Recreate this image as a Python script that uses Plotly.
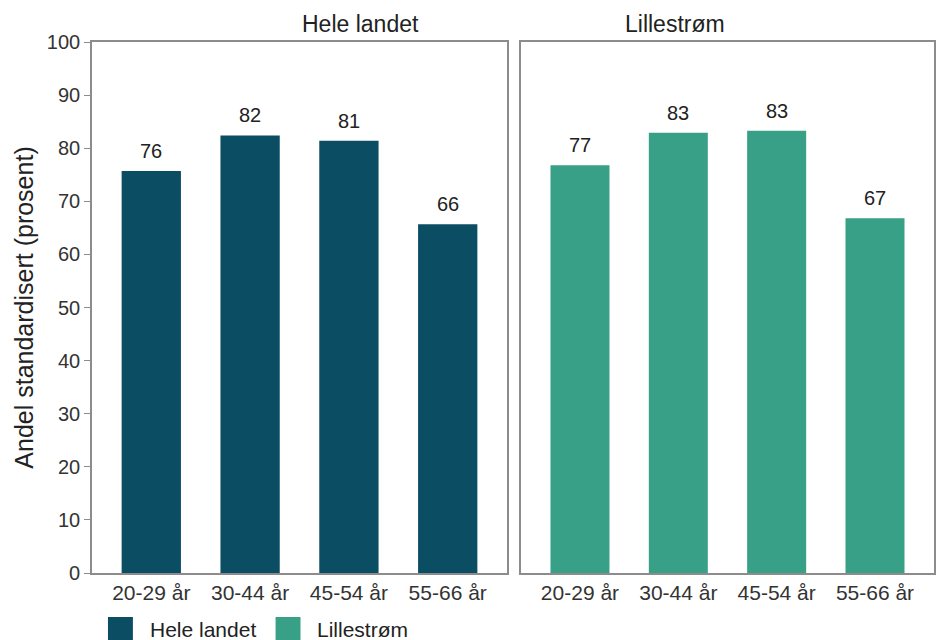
import plotly.graph_objects as go

categories = ["20-29 år", "30-44 år", "45-54 år", "55-66 år"]
hele_landet = [75.7, 82.4, 81.4, 65.7]
lillestrom = [76.8, 82.9, 83.3, 66.8]
series_names = ["Hele landet", "Lillestrøm"]
colors = ["#0b4d63", "#38a086"]
y_ticks = [0, 10, 20, 30, 40, 50, 60, 70, 80, 90, 100]

W, H = 938, 640
ml, mr, mt, mb = 92, 2, 42, 67
pw = W - ml - mr
ph = H - mt - mb
x1_end = (508 - ml) / pw
x2_start = (522 - ml) / pw

fig = go.Figure()
axes = [("x", "y"), ("x2", "y2")]
for i, (vals, name) in enumerate(zip([hele_landet, lillestrom], series_names)):
    xa, ya = axes[i]
    fig.add_trace(go.Bar(
        x=categories, y=vals, name=name,
        marker=dict(color=colors[i], line=dict(width=0)),
        width=0.6,
        xaxis=xa, yaxis=ya,
        hoverinfo="skip", showlegend=False,
    ))
    for c, v in zip(categories, vals):
        fig.add_annotation(x=c, y=v, xref=xa, yref=ya, text=f"{round(v):.0f}",
                           showarrow=False, yanchor="bottom", yshift=7,
                           font=dict(size=20, color="#222222"))

axis_line = dict(showline=True, linecolor="#8c8c8c", linewidth=1.6, mirror=True)
common_x = dict(type="category", range=[-0.6, 3.6], showgrid=False, ticks="",
                tickfont=dict(size=21, color="#333333"), **axis_line)
fig.update_layout(
    width=W, height=H,
    margin=dict(l=ml, r=mr, t=mt, b=mb),
    plot_bgcolor="white", paper_bgcolor="white",
    font=dict(family="Liberation Sans, Arial, sans-serif", color="#333333"),
    xaxis=dict(domain=[0, x1_end], anchor="y", **common_x),
    xaxis2=dict(domain=[x2_start, 1], anchor="y2", **common_x),
    yaxis=dict(range=[0, 100], tickvals=y_ticks, showgrid=False, zeroline=False,
               ticks="outside", ticklen=6, tickcolor="#8c8c8c", tickwidth=1.3,
               tickfont=dict(size=20, color="#333333"),
               title=dict(text="Andel standardisert (prosent)", font=dict(size=25, color="#222222"), standoff=6),
               **axis_line),
    yaxis2=dict(range=[0, 100], anchor="x2", showgrid=False, zeroline=False,
                showticklabels=False, ticks="", **axis_line),
    showlegend=False,
)

for name, dom in [("Hele landet", [0, x1_end]), ("Lillestrøm", [x2_start, 1])]:
    fig.add_annotation(text=name, x=(dom[0] + dom[1]) / 2, xref="paper",
                       y=1, yref="paper", yanchor="bottom", yshift=3, showarrow=False,
                       font=dict(size=23, color="#222222"))

# legend drawn below the panels
def px_x(p):
    return (p - ml) / pw

def px_y(p):
    return (H - mb - p) / ph

legend_items = [(108, 148), (276, 316)]
for (sx, tx), name, col in zip(legend_items, series_names, colors):
    fig.add_shape(type="rect", xref="paper", yref="paper",
                  x0=px_x(sx), x1=px_x(sx + 25), y0=px_y(617), y1=px_y(642),
                  fillcolor=col, line=dict(width=0))
    fig.add_annotation(text=name, xref="paper", yref="paper", x=px_x(tx), y=px_y(629),
                       xanchor="left", yanchor="middle", showarrow=False,
                       font=dict(size=21, color="#222222"))

fig.write_html("out.html", config={"displayModeBar": False},
               post_script="document.body.style.margin='0';document.body.style.overflow='hidden';")
